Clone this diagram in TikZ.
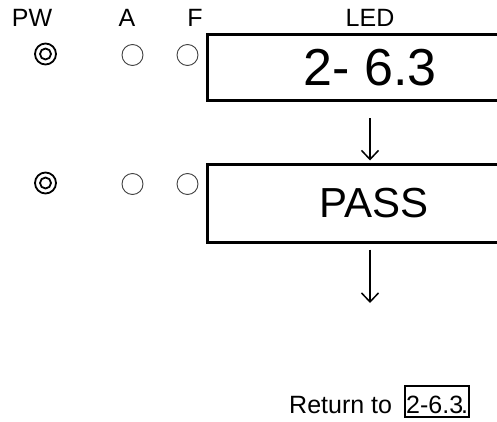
\documentclass[tikz,border=0pt]{standalone}
\usepackage{fontspec}
\setmainfont{Liberation Sans}
\usetikzlibrary{arrows.meta,positioning}

\begin{document}
\begin{tikzpicture}[
    x=1pt, y=1pt,
    lbl/.style={font=\fontsize{25}{30}\selectfont, inner sep=0pt},
    lamp/.style={draw=black!75, circle, line width=0.9pt, minimum size=21pt, inner sep=0pt},
    pwlamp/.style={lamp, draw=black, line width=1.8pt},
    pwcore/.style={circle, draw, line width=1.8pt, minimum size=11pt, inner sep=0pt},
    display/.style={draw, line width=3pt, minimum width=326pt, inner sep=0pt},
    arrow/.style={-{Straight Barb[length=9pt, width=17pt, line width=1.5pt]}, line width=1.5pt}
  ]
    \useasboundingbox (0,0) rectangle (497,-422);

    % Column headings
    \node[lbl] (hpw) at (32,-18) {PW};
    \node[lbl] (ha) at (127,-18) {A};
    \node[lbl] (hf) at (195,-18) {F};
    \node[lbl] (hled) at (370,-18) {LED};

    % First step
    \node[pwlamp] (pw1) at (45.5,-54) {};
    \node[pwcore] (pw1in) at (pw1) {};
    \node[lamp] (a1) at (132.5,-55) {};
    \node[lamp] (f1) at (187.5,-55) {};
    \node[display, minimum height=66pt, font=\fontsize{52}{60}\selectfont] (led1) at (370,-68) {2- 6.3};

    % Second step
    \node[pwlamp] (pw2) at (45.5,-183) {};
    \node[pwcore] (pw2in) at (pw2) {};
    \node[lamp] (a2) at (132.5,-184) {};
    \node[lamp] (f2) at (187.5,-184) {};
    \node[display, minimum height=78pt, font=\fontsize{42}{50}\selectfont] (led2) at (370,-203) {\hspace{8pt}PASS};

    % Return
    \node[lbl, anchor=base west] (ret) at (289,-413) {Return to};
    \node[lbl, draw, line width=2pt, inner xsep=1pt, inner ysep=4pt, text height=23pt, text depth=0pt,
          right=12pt of ret.base east, anchor=base west] (ref) {2-6.3\hspace{-2pt}.};

    % Arrows
    \coordinate (end) at (370,-303);
    \draw[arrow, shorten <=16pt, shorten >=2pt] (led1) -- (led2);
    \draw[arrow, shorten <=6pt] (led2) -- (end);
\end{tikzpicture}
\end{document}
